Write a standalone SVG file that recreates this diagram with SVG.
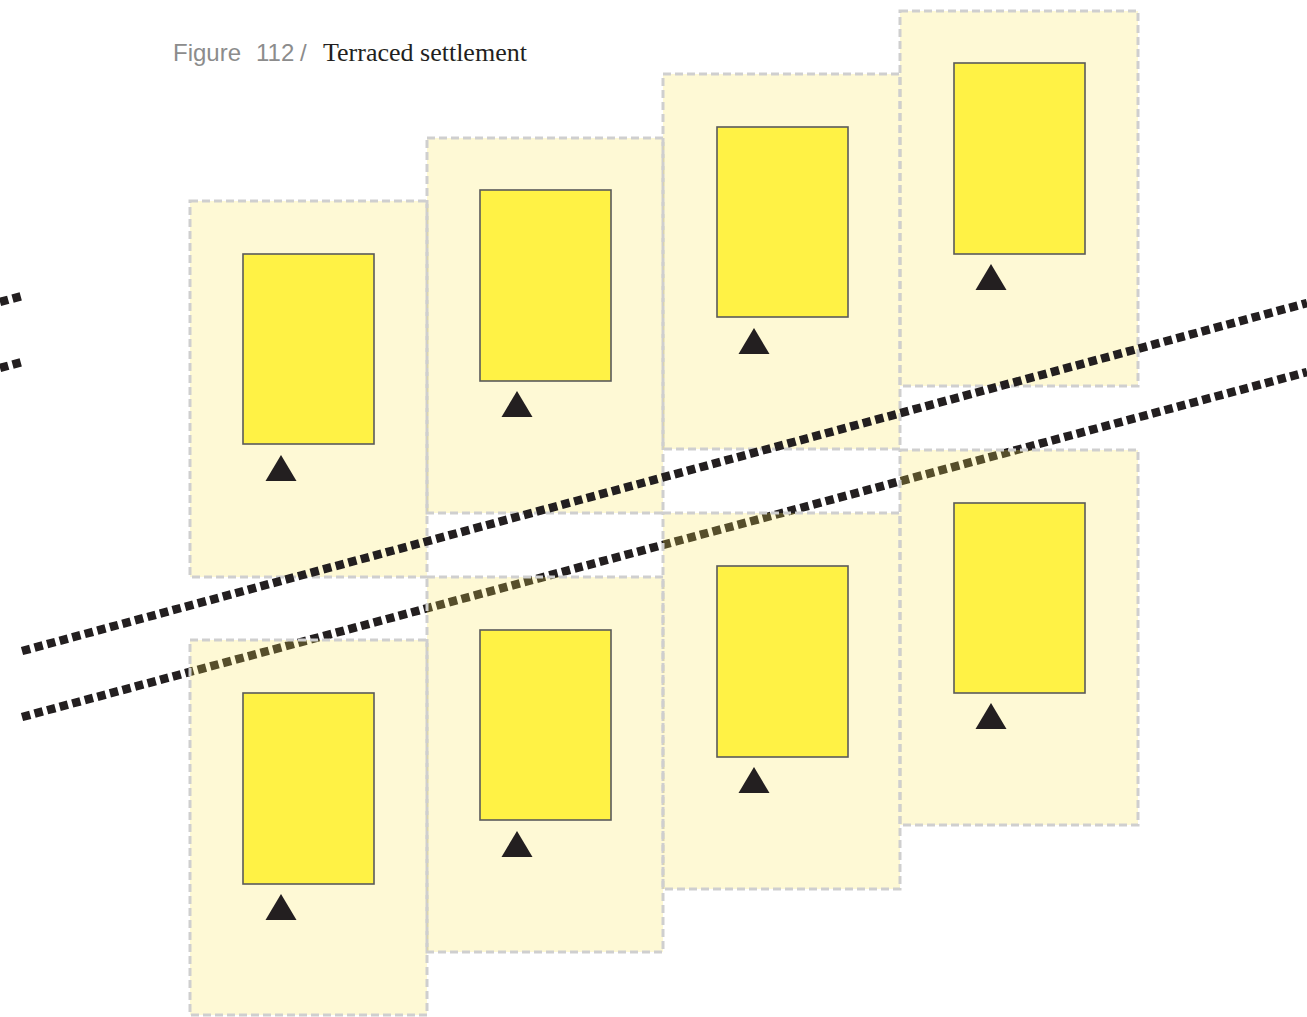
<svg xmlns="http://www.w3.org/2000/svg" width="1307" height="1017" viewBox="0 0 1307 1017">
<defs>
<style>
.plot{fill:#fbe650;fill-opacity:0.24;stroke:#cfcfcf;stroke-width:3;stroke-dasharray:8 4}
.house{fill:#fff245;stroke:#5a5a5a;stroke-width:1.6}
.door{fill:#231f20}
.road{stroke:#231f20;stroke-width:8.5;stroke-dasharray:8.5 4.5;fill:none}
.fig{font-family:"Liberation Sans","Open Sans",sans-serif;font-size:24px;fill:#8c8c8c}
.ttl{font-family:"Liberation Serif",serif;font-size:26px;fill:#231f20}
</style>
<polygon id="tri" points="0,-13 15.5,13 -15.5,13"/>
</defs>
<rect width="1307" height="1017" fill="#ffffff"/>
<g id="title">
<text class="fig" x="173" y="61">Figure</text>
<text class="fig" x="256" y="61">112</text>
<text class="fig" x="300" y="61">/</text>
<text class="ttl" x="323" y="61">Terraced settlement</text>
</g>
<g id="plot1"><rect class="plot" x="190" y="201" width="237" height="376"/><rect class="house" x="243" y="254" width="131" height="190"/><use href="#tri" class="door" x="281" y="468"/></g>
<g id="plot2"><rect class="plot" x="427" y="138" width="236" height="375"/><rect class="house" x="480" y="190" width="131" height="191"/><use href="#tri" class="door" x="517" y="404"/></g>
<g id="plot3"><rect class="plot" x="663" y="74" width="237" height="375"/><rect class="house" x="717" y="127" width="131" height="190"/><use href="#tri" class="door" x="754" y="341"/></g>
<g id="plot4"><rect class="plot" x="900" y="11" width="238" height="375"/><rect class="house" x="954" y="63" width="131" height="191"/><use href="#tri" class="door" x="991" y="277"/></g>
<g id="roads">
<line class="road" x1="22" y1="651" x2="1307" y2="303"/>
<line class="road" x1="22" y1="717" x2="1307" y2="372"/>
<line class="road" x1="0" y1="302" x2="22" y2="296"/>
<line class="road" x1="0" y1="368" x2="22" y2="362"/>
</g>
<g id="plot5"><rect class="plot" x="190" y="640" width="237" height="375"/><rect class="house" x="243" y="693" width="131" height="191"/><use href="#tri" class="door" x="281" y="907"/></g>
<g id="plot6"><rect class="plot" x="427" y="577" width="236" height="375"/><rect class="house" x="480" y="630" width="131" height="190"/><use href="#tri" class="door" x="517" y="844"/></g>
<g id="plot7"><rect class="plot" x="663" y="513" width="237" height="376"/><rect class="house" x="717" y="566" width="131" height="191"/><use href="#tri" class="door" x="754" y="780"/></g>
<g id="plot8"><rect class="plot" x="900" y="450" width="238" height="375"/><rect class="house" x="954" y="503" width="131" height="190"/><use href="#tri" class="door" x="991" y="716"/></g>
</svg>
